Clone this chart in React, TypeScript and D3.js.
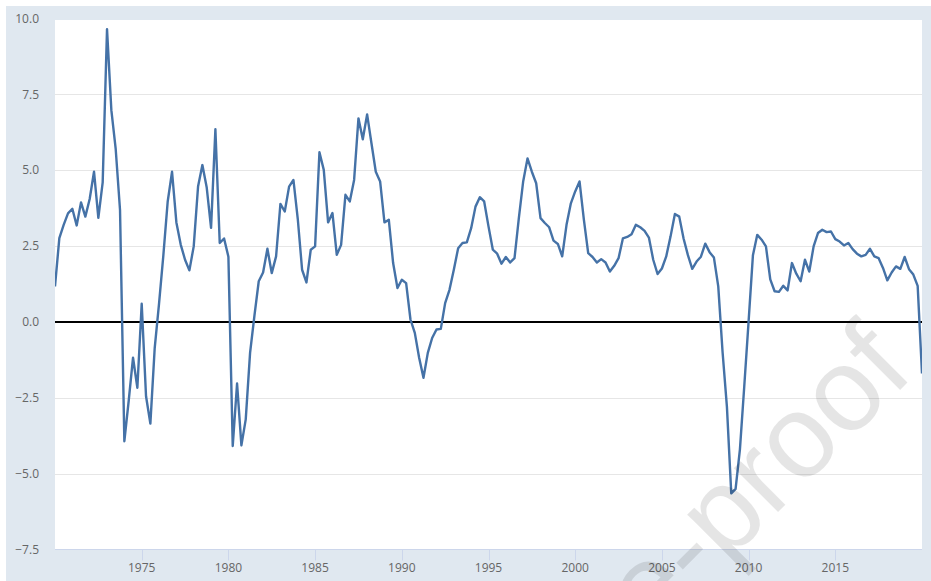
import React from "react";
import * as d3 from "d3";

const startYear = 1970;
// quarterly year-over-year growth, 1970Q1 .. 2020Q1
const values: number[] = [
  1.17, 2.76, 3.2, 3.58, 3.73, 3.18, 3.94, 3.47, 4.05, 4.95,
  3.43, 4.6, 9.65, 6.98, 5.7, 3.69, -3.93, -2.6, -1.18, -2.17,
  0.6, -2.45, -3.35, -0.86, 0.6, 2.2, 3.97, 4.95, 3.28, 2.55,
  2.05, 1.7, 2.49, 4.46, 5.17, 4.43, 3.1, 6.35, 2.6, 2.75,
  2.15, -4.09, -2.03, -4.07, -3.21, -1.02, 0.2, 1.34, 1.63, 2.41,
  1.61, 2.16, 3.89, 3.64, 4.46, 4.68, 3.4, 1.72, 1.3, 2.38,
  2.49, 5.59, 5.01, 3.28, 3.59, 2.21, 2.54, 4.19, 3.97, 4.68,
  6.71, 6.02, 6.84, 5.89, 4.95, 4.63, 3.28, 3.37, 1.94, 1.12,
  1.39, 1.28, 0.08, -0.36, -1.18, -1.84, -1.02, -0.53, -0.25, -0.23,
  0.62, 1.06, 1.72, 2.43, 2.6, 2.62, 3.09, 3.8, 4.11, 3.97,
  3.15, 2.38, 2.25, 1.92, 2.14, 1.96, 2.1, 3.42, 4.63, 5.39,
  4.95, 4.57, 3.42, 3.26, 3.12, 2.68, 2.57, 2.16, 3.2, 3.91,
  4.3, 4.63, 3.37, 2.27, 2.14, 1.96, 2.07, 1.96, 1.66, 1.85,
  2.1, 2.75, 2.8, 2.89, 3.2, 3.12, 3.0, 2.78, 2.05, 1.58,
  1.76, 2.16, 2.82, 3.56, 3.47, 2.75, 2.2, 1.75, 1.99, 2.15,
  2.58, 2.3, 2.12, 1.17, -1.0, -2.8, -5.65, -5.5, -4.2, -2.12,
  0.02, 2.2, 2.87, 2.71, 2.49, 1.4, 1.01, 0.99, 1.19, 1.04,
  1.94, 1.59, 1.34, 2.05, 1.66, 2.49, 2.93, 3.04, 2.96, 2.98,
  2.73, 2.65, 2.52, 2.6, 2.4, 2.25, 2.16, 2.21, 2.41, 2.16,
  2.1, 1.78, 1.37, 1.63, 1.83, 1.75, 2.14, 1.74, 1.56, 1.19,
  -1.7,
];
const yTicks: number[] = [-7.5, -5, -2.5, 0, 2.5, 5, 7.5, 10];
const xTickYears: number[] = [1975, 1980, 1985, 1990, 1995, 2000, 2005, 2010, 2015];
const watermark = "Journal Pre-proof";

const W = 931;
const H = 581;
const plot = { left: 55, right: 922, top: 20, bottom: 549.5 };

export default function App() {
  const x = d3.scaleLinear().domain([1970, 2020]).range([plot.left, plot.right]);
  const y = d3.scaleLinear().domain([-7.5, 10]).range([plot.bottom, 18.5]);
  const pts = values.map((v, i) => ({ t: startYear + i / 4, v }));
  const line = d3
    .line<{ t: number; v: number }>()
    .x((d) => x(d.t))
    .y((d) => y(d.v));
  const fmt = d3.format(".1f");
  const font = "'Open Sans', 'DejaVu Sans', sans-serif";

  return (
    <svg
      width={W}
      height={H}
      style={{ position: "absolute", left: 0, top: 0 }}
      xmlns="http://www.w3.org/2000/svg"
    >
      <rect x={0} y={0} width={W} height={H} fill="#ffffff" />
      <rect x={6} y={6} width={W - 6} height={H - 6} fill="#e0e8f0" />
      <rect
        x={plot.left}
        y={plot.top}
        width={plot.right - plot.left}
        height={plot.bottom - plot.top}
        fill="#ffffff"
      />
      <defs>
        <clipPath id="plotclip">
          <rect
            x={plot.left}
            y={plot.top}
            width={plot.right - plot.left}
            height={plot.bottom - plot.top}
          />
        </clipPath>
      </defs>
      {yTicks
        .filter((t) => t !== 0 && t !== -7.5 && y(t) > plot.top)
        .map((t) => (
          <line
            key={"g" + t}
            x1={plot.left}
            x2={plot.right}
            y1={Math.round(y(t)) + 0.5}
            y2={Math.round(y(t)) + 0.5}
            stroke="#e6e6e6"
            strokeWidth={1}
          />
        ))}
      <line
        x1={plot.left}
        x2={plot.right}
        y1={plot.bottom}
        y2={plot.bottom}
        stroke="#ccd6eb"
        strokeWidth={1}
      />
      {xTickYears.map((yr) => (
        <g key={"x" + yr}>
          <line
            x1={Math.round(x(yr)) + 0.5}
            x2={Math.round(x(yr)) + 0.5}
            y1={plot.bottom}
            y2={plot.bottom + 11}
            stroke="#ccd6eb"
            strokeWidth={1}
          />
          <text
            x={x(yr)}
            y={572}
            textAnchor="middle"
            fontFamily={font}
            fontSize={12}
            fill="#666666"
          >
            {yr}
          </text>
        </g>
      ))}
      {yTicks.map((t) => (
        <text
          key={"yl" + t}
          x={39}
          y={y(t)}
          dy="0.35em"
          textAnchor="end"
          fontFamily={font}
          fontSize={12}
          fill="#666666"
        >
          {fmt(t)}
        </text>
      ))}
      <g clipPath="url(#plotclip)">
        <line
          x1={plot.left}
          x2={plot.right}
          y1={y(0)}
          y2={y(0)}
          stroke="#000000"
          strokeWidth={2}
        />
        <path
          d={line(pts) || ""}
          fill="none"
          stroke="#4572a7"
          strokeWidth={2.4}
          strokeLinejoin="round"
        />
      </g>
      <text
        x={916}
        y={374}
        transform="rotate(-45 916 374)"
        textAnchor="end"
        fontFamily="'Liberation Sans', Arial, sans-serif"
        fontSize={118}
        fill="#000000"
        fillOpacity={0.1}
      >
        {watermark}
      </text>
    </svg>
  );
}
